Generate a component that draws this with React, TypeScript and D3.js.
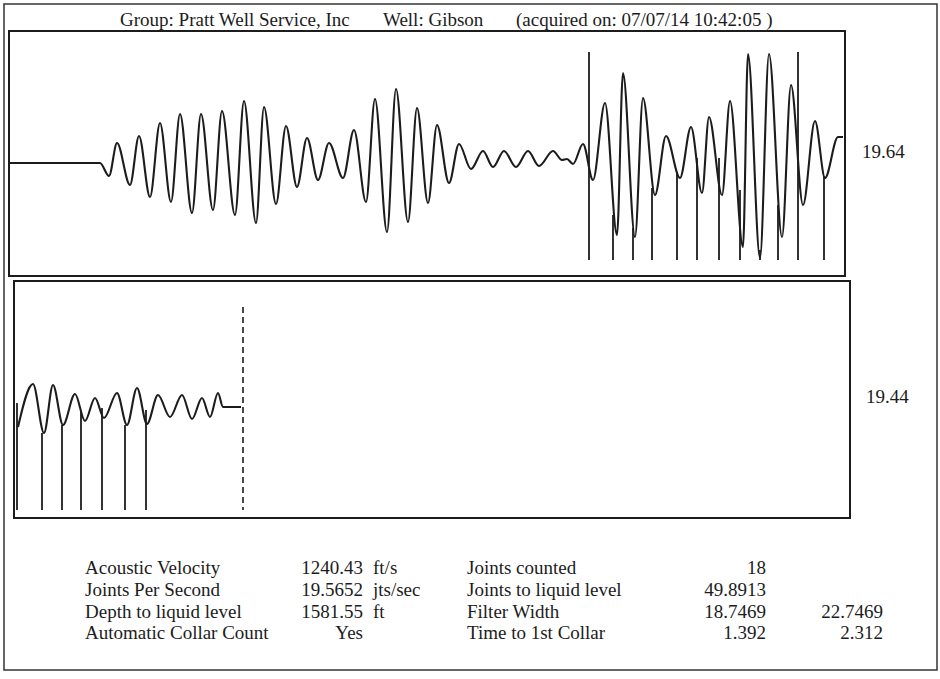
import React from 'react';
import * as d3 from 'd3';

const W = 940;
const H = 679;

// upper record: time (s) / amplitude of each turning point
const topTime = [
  0, 0.9, 0.99, 1.07, 1.2, 1.29, 1.4, 1.5, 1.61, 1.7, 1.82, 1.91, 2.03, 2.12, 2.25, 2.34, 2.46, 2.54,
  2.66, 2.76, 2.87, 2.97, 3.08, 3.19, 3.33, 3.44, 3.56, 3.65, 3.77, 3.86, 3.98, 4.07, 4.18, 4.27,
  4.39, 4.49, 4.61, 4.73, 4.83, 4.94, 5.06, 5.18, 5.29, 5.43, 5.52, 5.57, 5.63, 5.73, 5.83, 5.95,
  6.07, 6.13, 6.25, 6.33, 6.45, 6.56, 6.7, 6.81, 6.92, 6.99, 7.12, 7.2, 7.33, 7.38, 7.5, 7.59,
  7.72, 7.81, 7.93, 8.05, 8.15, 8.28, 8.33,
];
const topAmp = [
  0, 0, -0.13, 0.2, -0.22, 0.27, -0.34, 0.4, -0.39, 0.49, -0.5, 0.49, -0.47, 0.52, -0.52, 0.62, -0.6, 0.56,
  -0.41, 0.37, -0.24, 0.25, -0.17, 0.2, -0.15, 0.33, -0.39, 0.64, -0.69, 0.74, -0.59, 0.55, -0.4, 0.38,
  -0.2, 0.19, -0.06, 0.12, -0.04, 0.12, -0.04, 0.12, -0.03, 0.12, 0.03, 0.04, -0.01, 0.19, -0.17, 0.6,
  -0.72, 0.9, -0.74, 0.65, -0.32, 0.27, -0.15, 0.36, -0.3, 0.46, -0.32, 0.62, -0.84, 1.09, -0.95, 1.09,
  -0.74, 0.78, -0.42, 0.42, -0.15, 0.26, 0.26,
];
const topCollarTime = [5.79, 6.03, 6.23, 6.42, 6.67, 6.87, 7.09, 7.3, 7.5, 7.68, 7.88, 8.14];
const topCollarTop = [1.11, -0.52, -0.65, -0.25, -0.09, 0.05, 0.05, -0.27, -0.87, -0.42, 1.11, -0.13];
const topCollarBase = -0.97;

// lower record (filtered)
const bottomTime = [
  0.04, 0.19, 0.3, 0.39, 0.49, 0.61, 0.71, 0.81, 0.9, 1.03, 1.13, 1.23, 1.33, 1.44, 1.56, 1.68,
  1.78, 1.88, 1.96, 2.04, 2.09, 2.27,
];
const bottomAmp = [
  -0.2, 0.23, -0.26, 0.22, -0.18, 0.13, -0.14, 0.09, -0.11, 0.14, -0.18, 0.19, -0.17, 0.12, -0.1, 0.12,
  -0.12, 0.09, -0.1, 0.14, 0, 0,
];
const bottomCollarTime = [0.03, 0.28, 0.48, 0.67, 0.88, 1.11, 1.32];
const bottomCollarTop = [0.04, -0.26, -0.18, -0.05, -0.01, -0.18, -0.03];
const bottomCollarBase = -1.03;
const liquidLevelTime = 2.29;
const liquidLevelTop = 1.0;

const header = ['Group: Pratt Well Service, Inc', 'Well: Gibson', '(acquired on: 07/07/14 10:42:05 )'];
const panelValues = ['19.64', '19.44'];

const leftLabels = ['Acoustic Velocity', 'Joints Per Second', 'Depth to liquid level', 'Automatic Collar Count'];
const leftValues = ['1240.43', '19.5652', '1581.55', 'Yes'];
const leftUnits = ['ft/s', 'jts/sec', 'ft', ''];
const rightLabels = ['Joints counted', 'Joints to liquid level', 'Filter Width', 'Time to 1st Collar'];
const rightValues = ['18', '49.8913', '18.7469', '1.392'];
const rightExtra = ['', '', '22.7469', '2.312'];

const INK = '#1c1c1c';
const FONT = '"Liberation Serif", "DejaVu Serif", serif';

function Trace({ box, xDomain, yDomain, time, amp, collarTime, collarTop, collarBase, dashAt, dashTop }) {
  const x = d3.scaleLinear().domain(xDomain).range([box.x0, box.x1]);
  const y = d3.scaleLinear().domain(yDomain).range([box.y1, box.y0]);
  const line = d3
    .line()
    .x((d) => x(d[0]))
    .y((d) => y(d[1]))
    .curve(d3.curveMonotoneX);
  const pts = time.map((t, i) => [t, amp[i]]);
  return (
    <g>
      <rect
        x={box.x0}
        y={box.y0}
        width={box.x1 - box.x0}
        height={box.y1 - box.y0}
        fill="none"
        stroke={INK}
        strokeWidth={2}
      />
      {collarTime.map((t, i) => (
        <line
          key={i}
          x1={x(t)}
          x2={x(t)}
          y1={y(collarBase)}
          y2={y(collarTop[i])}
          stroke={INK}
          strokeWidth={1.8}
        />
      ))}
      <path d={line(pts)} fill="none" stroke={INK} strokeWidth={2.1} strokeLinejoin="round" />
      {dashAt != null && (
        <line
          x1={x(dashAt)}
          x2={x(dashAt)}
          y1={y(dashTop)}
          y2={y(collarBase)}
          stroke={INK}
          strokeWidth={1.6}
          strokeDasharray="6,4"
        />
      )}
    </g>
  );
}

export default function App() {
  const topBox = { x0: 9, x1: 845, y0: 31, y1: 276 };
  const bottomBox = { x0: 14, x1: 850, y0: 281, y1: 518 };
  const rowY = d3.range(leftLabels.length).map((i) => 574 + i * 21.8);

  return (
    <svg
      width={W}
      height={H}
      style={{ position: 'absolute', left: 0, top: 0, background: '#fff' }}
      fontFamily={FONT}
      fill={INK}
    >
      <rect x={4} y={4} width={933} height={666} fill="none" stroke="#333" strokeWidth={1.5} />

      <g fontSize={19}>
        <text x={120} y={26}>{header[0]}</text>
        <text x={383} y={26}>{header[1]}</text>
        <text x={516} y={26}>{header[2]}</text>
      </g>

      <Trace
        box={topBox}
        xDomain={[-0.01, 8.35]}
        yDomain={[-1.13, 1.32]}
        time={topTime}
        amp={topAmp}
        collarTime={topCollarTime}
        collarTop={topCollarTop}
        collarBase={topCollarBase}
      />
      <Trace
        box={bottomBox}
        xDomain={[0, 8.36]}
        yDomain={[-1.11, 1.26]}
        time={bottomTime}
        amp={bottomAmp}
        collarTime={bottomCollarTime}
        collarTop={bottomCollarTop}
        collarBase={bottomCollarBase}
        dashAt={liquidLevelTime}
        dashTop={liquidLevelTop}
      />

      <g fontSize={19}>
        <text x={862} y={158}>{panelValues[0]}</text>
        <text x={866} y={403}>{panelValues[1]}</text>
      </g>

      <g fontSize={19}>
        {leftLabels.map((s, i) => (
          <g key={s}>
            <text x={85} y={rowY[i]}>{s}</text>
            <text x={363} y={rowY[i]} textAnchor="end">{leftValues[i]}</text>
            <text x={373} y={rowY[i]}>{leftUnits[i]}</text>
            <text x={467} y={rowY[i]}>{rightLabels[i]}</text>
            <text x={766} y={rowY[i]} textAnchor="end">{rightValues[i]}</text>
            <text x={883} y={rowY[i]} textAnchor="end">{rightExtra[i]}</text>
          </g>
        ))}
      </g>
    </svg>
  );
}
